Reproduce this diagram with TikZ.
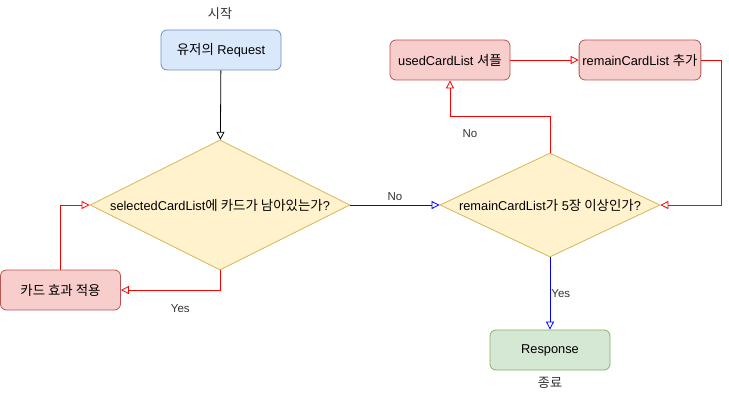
\documentclass[tikz,border=0pt]{standalone}
\usepackage{fontspec}
\setmainfont{Liberation Sans}
\newfontfamily\kr[Scale=1.05]{Noto Sans CJK KR}
\usepackage{tikz}
\usetikzlibrary{arrows.meta,positioning,shapes.geometric}
\definecolor{flowblue}{HTML}{DAE8FC}
\definecolor{flowblueline}{HTML}{6C8EBF}
\definecolor{flowred}{HTML}{F8CECC}
\definecolor{flowredline}{HTML}{B85450}
\definecolor{flowgreen}{HTML}{D5E8D4}
\definecolor{flowgreenline}{HTML}{82B366}
\definecolor{flowyellow}{HTML}{FFF2CC}
\definecolor{flowyellowline}{HTML}{D6B656}
\definecolor{flowtext}{HTML}{333333}

\begin{document}
\begin{tikzpicture}[
    x=1pt, y=-1pt,
    procbox/.style={rectangle, draw=#1line, fill=#1, rounded corners=6pt,
                    minimum width=120pt, minimum height=40pt, line width=0.8pt,
                    font=\fontsize{12.8}{15}\selectfont, align=center},
    procbox/.default=flowblue,
    question/.style={diamond, draw=flowyellowline, fill=flowyellow, inner sep=0pt,
                     line width=0.8pt, font=\fontsize{12.8}{15}\selectfont},
    caption/.style={font=\fontsize{11.5}{13}\selectfont, text=flowtext, inner sep=1pt},
    arr/.style={-{Triangle[open, length=8pt, width=8pt]}, line width=0.8pt},
    redarr/.style={arr, red},
    bluearr/.style={arr, blue}
]
\useasboundingbox (0,0) rectangle (729,401);

% left column
\node[caption, font=\fontsize{12.5}{14}\selectfont] (start) at (220,14) {\kr 시작};
\node[procbox=flowblue] (req) at (221,50) {{\kr 유저의} Request};
\node[question, minimum width=260pt, minimum height=130pt] (q1) at (220,205)
    {\makebox[0pt]{selectedCardList{\kr 에 카드가 남아있는가}?}};
\node[procbox=flowred] (effect) at (60.5,290) {\kr 카드 효과 적용};

% right column
\node[question, minimum width=220pt, minimum height=104pt] (q2) at (550,205)
    {\makebox[0pt]{remainCardList{\kr 가} 5{\kr 장 이상인가}?}};
\node[procbox=flowred] (used) at (450,60) {usedCardList {\kr 셔플}};
\node[procbox=flowred] (remain) at (640,60) {remainCardList {\kr 추가}};
\node[procbox=flowgreen] (resp) at (550,350) {Response};
\node[caption, font=\fontsize{12.5}{14}\selectfont] (finish) at (550,383) {\kr 종료};

\draw[arr] (req) -- (q1);
\draw[redarr] (q1.south) |- node[caption, pos=0.7, below=13pt] {Yes} (effect.east);
\draw[redarr] (effect.north) |- (q1.west);
\draw[bluearr] (q1.east) -- node[caption, above=3pt] {No} (q2.west);
\draw[redarr] (q2.north) -- ++(0,-36) -| node[caption, pos=0.4, below=12pt] {No} (used.south);
\draw[redarr] (used) -- (remain);
\draw[redarr] (remain.east) -- ++(20,0) |- (q2.east);
\draw[bluearr] (q2.south) -- node[caption, right] {Yes} (resp.north);

\end{tikzpicture}
\end{document}
